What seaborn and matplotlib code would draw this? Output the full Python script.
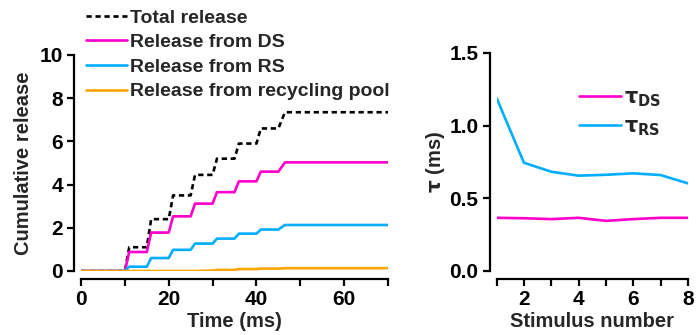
import pandas as pd
import seaborn as sns
import matplotlib.pyplot as plt
from matplotlib.ticker import MultipleLocator

# cumulative release traces (corner points of the staircase)
time_ms = [0, 10, 11, 15, 16, 20, 21, 25, 26, 30, 31, 35, 36, 40, 41, 45, 46.5, 70]
total_rel = [0, 0, 1.1, 1.1, 2.4, 2.4, 3.5, 3.5, 4.45, 4.45, 5.2, 5.2, 5.9, 5.9, 6.6, 6.6, 7.35, 7.35]
ds_rel = [0, 0, 0.88, 0.88, 1.78, 1.78, 2.53, 2.53, 3.12, 3.12, 3.65, 3.65, 4.15, 4.15, 4.6, 4.6, 5.03, 5.03]
rs_rel = [0, 0, 0.2, 0.2, 0.6, 0.6, 0.98, 0.98, 1.27, 1.27, 1.5, 1.5, 1.73, 1.73, 1.92, 1.92, 2.13, 2.13]
rec_rel = [0, 0, 0, 0, 0, 0, 0, 0, 0, 0.02, 0.05, 0.05, 0.09, 0.09, 0.11, 0.11, 0.13, 0.13]

# time constants per stimulus
stimulus = [1, 2, 3, 4, 5, 6, 7, 8]
tau_ds = [0.366, 0.363, 0.357, 0.366, 0.345, 0.357, 0.366, 0.366]
tau_rs = [1.19, 0.745, 0.683, 0.656, 0.662, 0.672, 0.66, 0.603]

names = ["Total release", "Release from DS", "Release from RS", "Release from recycling pool"]
colores = ["black", "#FF00CC", "#00AEFF", "#FFA500"]

sns.set_style("ticks")
plt.rcParams["font.family"] = ["Liberation Sans", "DejaVu Sans"]
plt.rcParams["font.weight"] = "bold"
plt.rcParams["axes.labelweight"] = "bold"

df_rel = pd.concat([
    pd.DataFrame({"t": time_ms, "val": v, "serie": n})
    for n, v in zip(names, [total_rel, ds_rel, rs_rel, rec_rel])
])
df_tau = pd.concat([
    pd.DataFrame({"stim": stimulus, "tau": tau_ds, "serie": "ds"}),
    pd.DataFrame({"stim": stimulus, "tau": tau_rs, "serie": "rs"}),
])

W, H = 696, 335
fig = plt.figure(figsize=(W / 100, H / 100), dpi=100)
ax1 = fig.add_axes([81 / W, 64 / H, 307 / W, 216 / H])
ax2 = fig.add_axes([496.6 / W, 64 / H, 191.4 / W, 218 / H])

# Panel izquierdo
sns.lineplot(data=df_rel, x="t", y="val", hue="serie", style="serie",
             palette=dict(zip(names, colores)),
             dashes={names[0]: (2, 1.4), names[1]: "", names[2]: "", names[3]: ""},
             estimator=None, sort=False, linewidth=1.9, ax=ax1, legend=False)
ax1.set_xlim(0, 70)
ax1.set_ylim(0, 10)
ax1.xaxis.set_major_locator(MultipleLocator(20))
ax1.xaxis.set_minor_locator(MultipleLocator(10))
ax1.yaxis.set_major_locator(MultipleLocator(2))
ax1.set_xlabel("Time (ms)", fontsize=14.5, labelpad=2)
ax1.set_ylabel("Cumulative release", fontsize=14.5, labelpad=5)

handles = [plt.Line2D([], [], color=c, lw=1.9, ls=(0, (2, 1.4)) if i == 0 else "-")
           for i, c in enumerate(colores)]
ax1.legend(handles, names, loc="upper left", bbox_to_anchor=(86 / W, 1 - 9 / H),
           bbox_transform=fig.transFigure, frameon=False, fontsize=14,
           handlelength=2.1, handletextpad=0.15, labelspacing=0.36, borderpad=0,
           borderaxespad=0)

# Panel derecho
sns.lineplot(data=df_tau, x="stim", y="tau", hue="serie",
             palette=[colores[1], colores[2]], linewidth=1.9, ax=ax2, legend=False)
ax2.set_xlim(1, 8)
ax2.set_ylim(0, 1.5)
ax2.xaxis.set_major_locator(MultipleLocator(2))
ax2.xaxis.set_minor_locator(MultipleLocator(1))
ax2.yaxis.set_major_locator(MultipleLocator(0.5))
ax2.yaxis.set_major_formatter(plt.FormatStrFormatter("%.1f"))
ax2.set_xlabel("Stimulus number", fontsize=14.5, labelpad=2)
ax2.set_ylabel(r"$\mathbf{\tau}$ (ms)", fontsize=14.5, labelpad=2)
h2 = [plt.Line2D([], [], color=c, lw=1.9) for c in colores[1:3]]
ax2.legend(h2, [r"$\mathbf{\tau_{DS}}$", r"$\mathbf{\tau_{RS}}$"], loc="upper left",
           bbox_to_anchor=(579 / W, 1 - 88 / H), bbox_transform=fig.transFigure,
           frameon=False, fontsize=15, handlelength=2.0, handletextpad=0.15,
           labelspacing=0.4, borderpad=0, borderaxespad=0)

for ax in (ax1, ax2):
    sns.despine(ax=ax)
    ax.spines["left"].set_position(("outward", 5))
    ax.spines["bottom"].set_position(("outward", 6))
    for s in ("left", "bottom"):
        ax.spines[s].set_linewidth(1.6)
        ax.spines[s].set_color("black")
    ax.tick_params(which="both", direction="out", length=5, width=1.6,
                   labelsize=15, colors="black", pad=3)
    for lab in ax.get_xticklabels() + ax.get_yticklabels():
        lab.set_fontweight("bold")

fig.savefig("out.png", dpi=100)
